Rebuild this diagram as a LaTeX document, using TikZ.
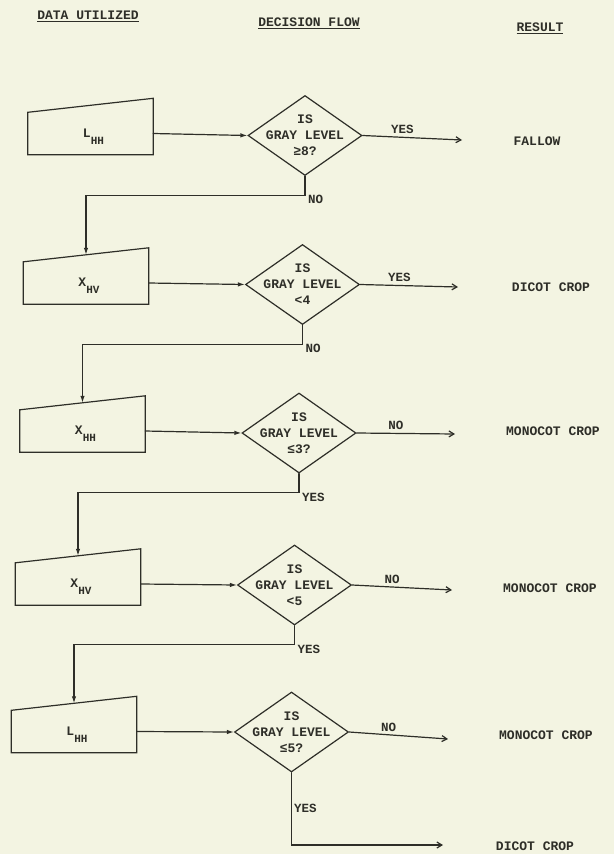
\documentclass[tikz,border=0pt]{standalone}
\usepackage{fontspec}
\setmainfont{Liberation Mono}
\usetikzlibrary{calc,arrows.meta,shapes.geometric}
\definecolor{paper}{HTML}{F3F4E2}
\definecolor{ink}{HTML}{2E2E28}
\newcommand{\chanlab}[2]{#1\raisebox{-7pt}{\fontsize{11}{11}\selectfont #2}}

\begin{document}
\begin{tikzpicture}[x=1pt,y=-1pt,line cap=round,
    flow/.style={draw=ink,line width=1.2pt},
    feed/.style={-{Latex[length=7pt,width=4.5pt]}},
    exit/.style={-{Straight Barb[length=5pt,width=6pt]}},
    inbox/.style={minimum width=125pt,minimum height=42pt,inner sep=0pt,
      text=ink,font=\bfseries\fontsize{13}{15}\selectfont},
    query/.style={diamond,draw=ink,line width=1.2pt,minimum width=114pt,
      minimum height=80pt,inner sep=0pt},
    qtext/.style={align=center,inner sep=0pt,text=ink,
      font=\bfseries\fontsize{13}{16}\selectfont},
    tag/.style={text=ink,inner sep=2pt,font=\bfseries\fontsize{12.5}{14}\selectfont},
    result/.style={text=ink,font=\bfseries\fontsize{13}{15}\selectfont},
    header/.style={text=ink,font=\bfseries\fontsize{13}{15}\selectfont}]
  \useasboundingbox (0,0) rectangle (614,854);
  \fill[paper] (0,0) rectangle (614,854);
  % column headings
  \node[header] (h1) at (88,16) {\underline{DATA UTILIZED}};
  \node[header] (h2) at (309,23) {\underline{DECISION FLOW}};
  \node[header] (h3) at (540,28) {\underline{RESULT}};
  % data boxes
  \foreach \n/\x/\y/\lab in {1/90.5/133.5/{\chanlab{L}{HH}}, 2/86/283/{\chanlab{X}{HV}},
        3/82.5/431/{\chanlab{X}{HH}}, 4/78/584/{\chanlab{X}{HV}}, 5/74/731.5/{\chanlab{L}{HH}}}{
    \node[inbox] (b\n) at (\x,\y) {};
    \node[inbox,minimum width=0pt,minimum height=0pt] (t\n) at ($(b\n)+(3,3)$) {\lab};
    \draw[flow] (b\n.north west) -- ($(b\n.north east)+(0,-14)$)
      -- (b\n.south east) -- (b\n.south west) -- cycle;
    \coordinate (b\n top) at ($(b\n.north west)!0.5!(b\n.north east)+(0,-7)$);
  }
  % decisions
  \foreach \n/\x/\y/\cond in {1/305/135.5/{≥8?}, 2/302.5/284.5/{<4}, 3/299/433/{≤3?},
        4/294.5/585/{<5}, 5/291.5/732/{≤5?}}{
    \node[query,label={[qtext]center:{IS\\GRAY LEVEL\\\cond}}] (q\n) at (\x,\y) {};
    \draw[flow,feed] (b\n.east) -- (q\n.west);
  }
  % outcomes
  \foreach \n/\x/\y/\ans in {1/462/140/YES, 2/458/287/YES, 3/455/434/NO,
        4/452/590/NO, 5/448/739/NO}{
    \coordinate (e\n) at (\x,\y);
    \draw[flow,exit] (q\n.east) -- node[tag,above,pos=0.4,yshift=1pt] (a\n) {\ans} (e\n);
  }
  \foreach \n/\x/\y/\res in {1/537/141/FALLOW, 2/551/287/DICOT CROP, 3/553/431/MONOCOT CROP,
        4/550/588/MONOCOT CROP, 5/546/735/MONOCOT CROP, 6/535/846/DICOT CROP}{
    \node[result] (r\n) at (\x,\y) {\res};
  }
  % links down to the next data set
  \foreach \n/\m/\ans in {1/2/NO, 2/3/NO, 3/4/YES, 4/5/YES}{
    \draw[flow,feed] (q\n.south) -- ++(0,19) coordinate (k\n) -| (b\m top);
    \node[tag,anchor=north west,xshift=1pt,yshift=2pt] (n\n) at (k\n) {\ans};
  }
  \coordinate (e6) at (443,845);
  \coordinate (k5) at (q5.south |- e6);
  \draw[flow,exit] (q5.south) -- node[tag,right] (n5) {YES} (k5) -- (e6);
\end{tikzpicture}
\end{document}
